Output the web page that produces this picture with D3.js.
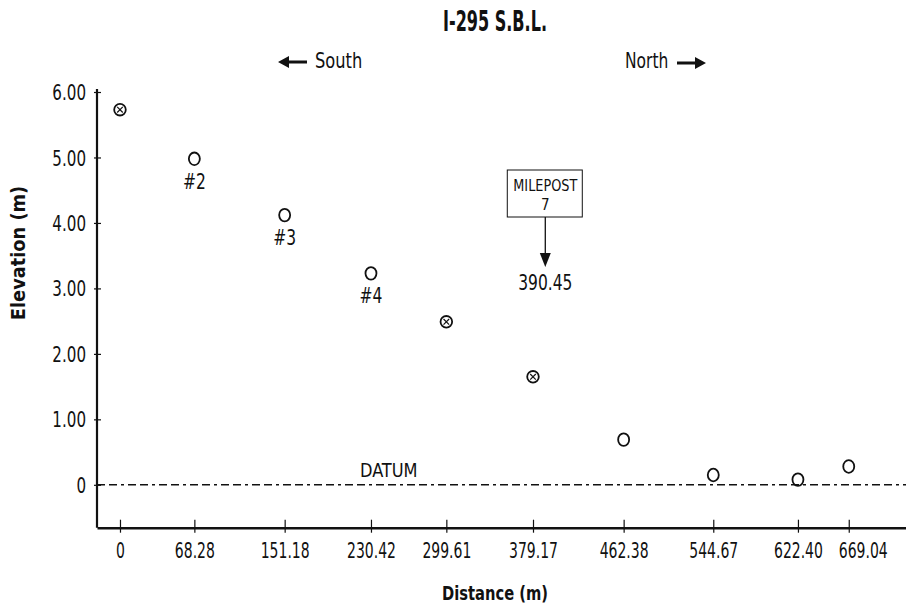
<!DOCTYPE html>
<html>
<head>
<meta charset="utf-8">
<script src="https://cdn.jsdelivr.net/npm/d3@7"></script>
<style>
  body { margin: 0; background: #fff; }
  svg text { font-family: "DejaVu Sans Condensed", "DejaVu Sans", sans-serif; font-stretch: condensed; fill: #111; }
</style>
</head>
<body>
<div id="chart"></div>
<script>
// Survey points along I-295 S.B.L.
const distances = [0, 68.28, 151.18, 230.42, 299.61, 379.17, 462.38, 544.67, 622.40, 669.04];
const elevations = [5.73, 4.98, 4.12, 3.23, 2.49, 1.65, 0.69, 0.15, 0.08, 0.28];
const markerTypes = ['cross', 'open', 'open', 'open', 'cross', 'cross', 'open', 'open', 'open', 'open'];
const pointLabels = ['', '#2', '#3', '#4', '', '', '', '', '', ''];
const yTicks = [0, 1, 2, 3, 4, 5, 6];
const milepost = { distance: 390.45, title: 'MILEPOST', number: '7' };

const width = 906, height = 609;
const margin = { top: 92, right: 0, bottom: 82, left: 97 };

const svg = d3.select('#chart').append('svg')
    .attr('width', width)
    .attr('height', height);

// narrow the glyphs so the text matches the condensed face of the original
function squeeze(sel, factor) {
    sel.each(function () {
        const w = this.getComputedTextLength();
        d3.select(this)
            .attr('textLength', w * factor)
            .attr('lengthAdjust', 'spacingAndGlyphs');
    });
}

const x = d3.scaleLinear()
    .domain([-21.1, 721.6])
    .range([margin.left, width - margin.right]);

const y = d3.scaleLinear()
    .domain([-0.655, 6])
    .range([height - margin.bottom + 0.7, margin.top]);

// Title
svg.append('text')
    .attr('x', 495).attr('y', 31)
    .attr('text-anchor', 'middle')
    .style('font-size', '28px').style('font-weight', 'bold')
    .attr('textLength', 104).attr('lengthAdjust', 'spacingAndGlyphs')
    .text('I-295 S.B.L.');

// Direction arrows
function arrow(x0, x1, yy) {
    const dir = Math.sign(x1 - x0);
    const head = 11;
    const hx = x1 - dir * head;
    return `M${x0},${yy - 1.6}L${hx},${yy - 1.6}L${hx},${yy - 6}L${x1},${yy}L${hx},${yy + 6}L${hx},${yy + 1.6}L${x0},${yy + 1.6}Z`;
}
svg.append('path').attr('d', arrow(307, 278, 62)).attr('fill', '#111');
svg.append('text').attr('x', 315).attr('y', 68).style('font-size', '21px').text('South')
    .call(squeeze, 0.86);
svg.append('text').attr('x', 625).attr('y', 68).style('font-size', '21px').text('North')
    .call(squeeze, 0.82);
svg.append('path').attr('d', arrow(677, 706, 63)).attr('fill', '#111');

// Datum line
svg.append('line')
    .attr('x1', margin.left).attr('x2', width)
    .attr('y1', y(0)).attr('y2', y(0))
    .attr('stroke', '#111').attr('stroke-width', 1.6)
    .attr('stroke-dasharray', '8,4,8,4,3,4');
svg.append('text')
    .attr('x', 360).attr('y', 477)
    .style('font-size', '20px')
    .text('DATUM')
    .call(squeeze, 0.9);

// X axis
const xAxis = svg.append('g')
    .attr('transform', `translate(0,${y.range()[0]})`)
    .call(d3.axisBottom(x)
        .tickValues(distances)
        .tickFormat(d => d === 0 ? '0' : d.toFixed(2))
        .tickSizeOuter(0));
xAxis.select('.domain').attr('stroke', '#111').attr('stroke-width', 2.6);
xAxis.selectAll('.tick line').attr('y1', -8).attr('y2', 5).attr('stroke', '#111').attr('stroke-width', 1.2);
xAxis.selectAll('.tick text')
    .attr('y', 30).attr('dy', 0)
    // the last label is nudged right in the original so it clears its neighbour
    .attr('x', (d, i) => i === distances.length - 1 ? 14 : 0)
    .style('font-size', '21px')
    .style('font-family', '"DejaVu Sans Condensed", "DejaVu Sans", sans-serif')
    .attr('fill', '#111')
    .call(squeeze, 0.74);

// Y axis
const yAxis = svg.append('g')
    .attr('transform', `translate(${margin.left},0)`)
    .call(d3.axisLeft(y)
        .tickValues(yTicks)
        .tickFormat(d => d === 0 ? '0' : d.toFixed(2))
        .tickSizeOuter(0));
yAxis.select('.domain').attr('stroke', '#111').attr('stroke-width', 2.2)
    .attr('d', `M0,${y.range()[0]}V${margin.top - 3}`);
yAxis.selectAll('.tick line').attr('x1', -3).attr('x2', 4).attr('stroke', '#111').attr('stroke-width', 1.2);
yAxis.selectAll('.tick text')
    .attr('x', -11).attr('dy', '0.36em')
    .style('font-size', '21px')
    .style('font-family', '"DejaVu Sans Condensed", "DejaVu Sans", sans-serif')
    .attr('fill', '#111')
    .call(squeeze, 0.8);

// Axis titles
svg.append('text')
    .attr('x', 495).attr('y', 600)
    .attr('text-anchor', 'middle')
    .style('font-size', '19px').style('font-weight', 'bold')
    .text('Distance (m)')
    .call(squeeze, 0.86);
svg.append('text')
    .attr('transform', 'translate(25,253) rotate(-90)')
    .attr('text-anchor', 'middle')
    .style('font-size', '19px').style('font-weight', 'bold')
    .text('Elevation (m)')
    .call(squeeze, 1.04);

// Points
const points = distances.map((d, i) => ({
    distance: d, elevation: elevations[i], type: markerTypes[i], label: pointLabels[i]
}));

const pts = svg.append('g').selectAll('g')
    .data(points)
    .enter()
    .append('g')
    .attr('transform', d => `translate(${x(d.distance)},${y(d.elevation)})`);

pts.append('ellipse')
    .attr('rx', d => d.type === 'cross' ? 5.8 : 5.5)
    .attr('ry', d => d.type === 'cross' ? 5.8 : 6.3)
    .attr('fill', 'none')
    .attr('stroke', '#111')
    .attr('stroke-width', 1.8);

pts.filter(d => d.type === 'cross')
    .append('path')
    .attr('d', 'M-2.8,-2.8L2.8,2.8M-2.8,2.8L2.8,-2.8')
    .attr('stroke', '#111')
    .attr('stroke-width', 1.2);

pts.filter(d => d.label)
    .append('text')
    .attr('y', 30)
    .attr('text-anchor', 'middle')
    .style('font-size', '21px')
    .text(d => d.label)
    .call(squeeze, 0.82);

// Milepost callout
const mx = x(milepost.distance);
svg.append('rect')
    .attr('x', mx - 38).attr('y', 170)
    .attr('width', 75).attr('height', 47)
    .attr('fill', '#fff').attr('stroke', '#111').attr('stroke-width', 1);
svg.append('text')
    .attr('x', mx).attr('y', 191)
    .attr('text-anchor', 'middle')
    .style('font-size', '16px')
    .attr('textLength', 64).attr('lengthAdjust', 'spacingAndGlyphs')
    .text(milepost.title);
svg.append('text')
    .attr('x', mx).attr('y', 210)
    .attr('text-anchor', 'middle')
    .style('font-size', '15px')
    .text(milepost.number);
svg.append('line')
    .attr('x1', mx).attr('x2', mx)
    .attr('y1', 217).attr('y2', 256)
    .attr('stroke', '#111').attr('stroke-width', 1.3);
svg.append('path')
    .attr('d', `M${mx - 5.5},253L${mx + 5.5},253L${mx},267Z`)
    .attr('fill', '#111');
svg.append('text')
    .attr('x', mx).attr('y', 290)
    .attr('text-anchor', 'middle')
    .style('font-size', '21px')
    .text(milepost.distance.toFixed(2))
    .call(squeeze, 0.82);
</script>
</body>
</html>
